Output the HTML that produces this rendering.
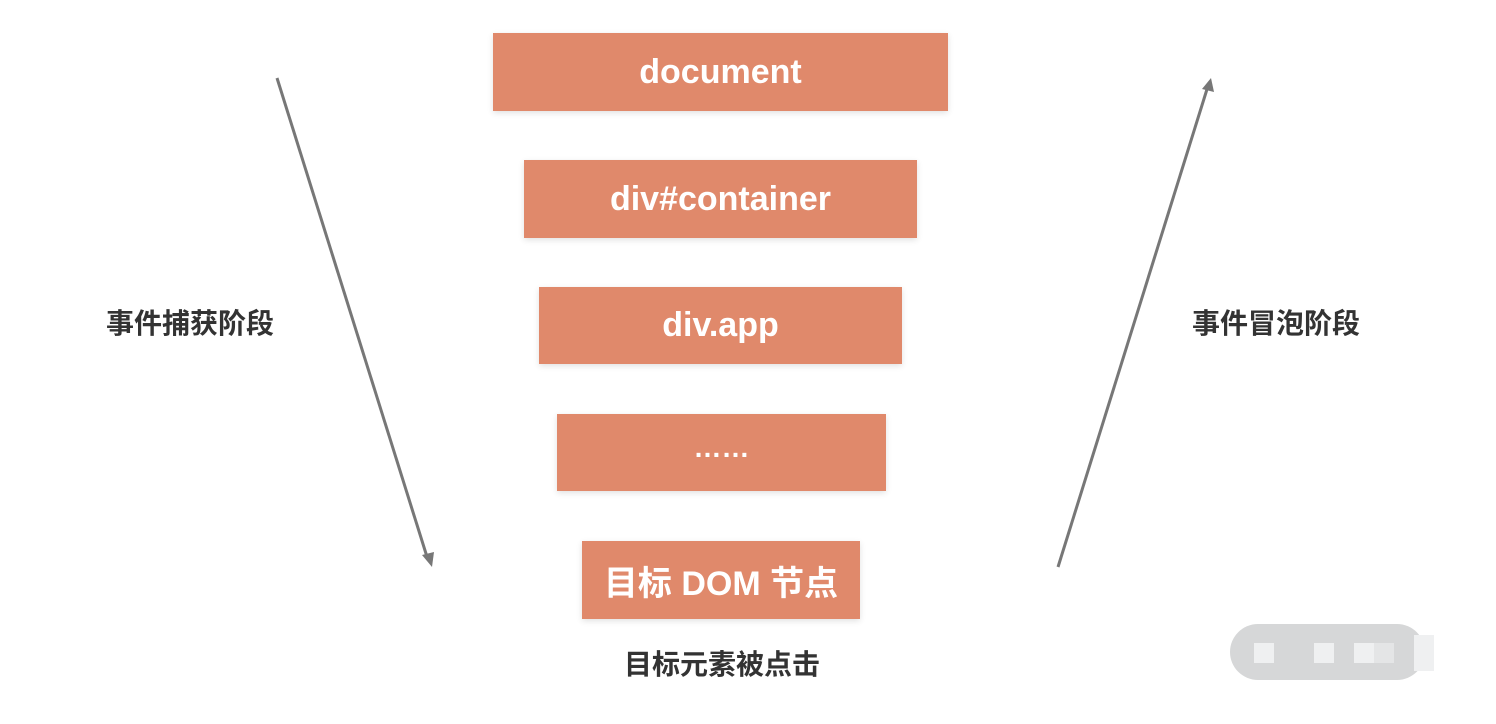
<!DOCTYPE html>
<html><head><meta charset="utf-8"><style>
body{margin:0;width:1496px;height:724px;background:#fff;position:relative;overflow:hidden;font-family:"Liberation Sans","Noto Sans CJK SC",sans-serif}
.b{position:absolute;background:#e0896b;color:#fff;font-weight:bold;font-size:34px;display:flex;align-items:center;justify-content:center;box-shadow:0 2px 6px rgba(0,0,0,.12)}
.l{position:absolute;font-weight:bold;font-size:28px;color:#333;white-space:nowrap;transform:translate(-50%,-50%)}
</style></head><body>
<div class="b" style="left:493px;top:33px;width:455px;height:78px">document</div>
<div class="b" style="left:524px;top:160px;width:393px;height:78px">div#container</div>
<div class="b" style="left:539px;top:287px;width:363px;height:77px">div.app</div>
<div class="b" style="left:557px;top:414px;width:329px;height:77px;font-size:28px;padding-bottom:10px;box-sizing:border-box">……</div>
<div class="b" style="left:582px;top:541px;width:278px;height:78px">目标 DOM 节点</div>
<div class="l" style="left:190px;top:322px">事件捕获阶段</div>
<div class="l" style="left:1276px;top:322px">事件冒泡阶段</div>
<div class="l" style="left:722px;top:663px">目标元素被点击</div>
<svg width="1496" height="724" style="position:absolute;left:0;top:0">
<line x1="277" y1="78" x2="428" y2="560" stroke="#777" stroke-width="3"/>
<path d="M432,567 L422,555 L434,552 Z" fill="#777"/>
<line x1="1058" y1="567" x2="1208" y2="86" stroke="#777" stroke-width="3"/>
<path d="M1211,78 L1214,92 L1202,89 Z" fill="#777"/>
<rect x="1230" y="624" width="195" height="56" rx="28" fill="#d6d7d8"/>
<rect x="1254" y="643" width="20" height="20" fill="#eff0f1"/>
<rect x="1314" y="643" width="20" height="20" fill="#eff0f1"/>
<rect x="1354" y="643" width="20" height="20" fill="#eff0f1"/>
<rect x="1374" y="643" width="20" height="20" fill="#e4e5e6"/>
<rect x="1414" y="635" width="20" height="36" fill="#eff0f1"/>
</svg>
</body></html>
